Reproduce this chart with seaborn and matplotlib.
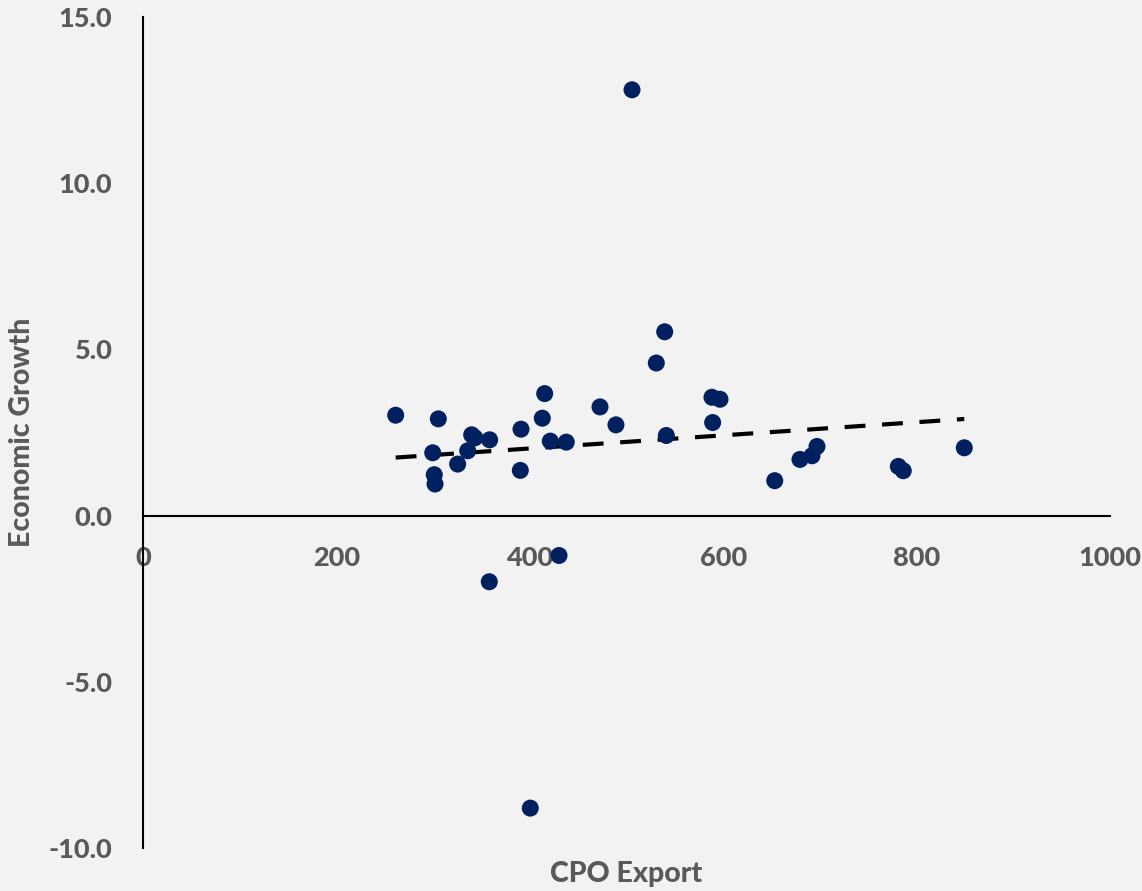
import matplotlib
matplotlib.use("Agg")
import matplotlib.pyplot as plt
import seaborn as sns
import pandas as pd

cpo_export = [261.3, 299.6, 301.2, 302.0, 305.4, 325.4, 335.8, 339.9, 343.3, 358.5,
              358.1, 390.9, 390.2, 400.5, 412.9, 415.4, 421.2, 430.2, 437.7, 472.6,
              489.1, 505.7, 530.8, 539.5, 541.2, 588.4, 596.7, 589.1, 653.3, 679.4,
              691.8, 697.0, 781.1, 786.2, 849.3]
economic_growth = [3.02, 1.89, 1.23, 0.95, 2.91, 1.55, 1.95, 2.43, 2.34, 2.28,
                   -1.99, 2.60, 1.36, -8.80, 2.93, 3.67, 2.24, -1.20, 2.21, 3.27,
                   2.73, 12.81, 4.59, 5.53, 2.41, 3.56, 3.50, 2.80, 1.05, 1.69,
                   1.80, 2.08, 1.48, 1.35, 2.04]
x_ticks = [0, 200, 400, 600, 800, 1000]
y_ticks = [-10.0, -5.0, 0.0, 5.0, 10.0, 15.0]

df = pd.DataFrame({"CPO Export": cpo_export, "Economic Growth": economic_growth})

sns.set_style("white")
plt.rcParams["font.family"] = ["Lato", "DejaVu Sans"]
BG = "#F2F2F2"
TXT = "#595959"
NAVY = "#002060"
W = "black"

fig = plt.figure(figsize=(11.42, 8.91), dpi=100, facecolor=BG)
ax = fig.add_axes([143/1142, 1 - 848/891, (1110 - 143)/1142, (848 - 17)/891])
ax.set_facecolor(BG)

sns.regplot(data=df, x="CPO Export", y="Economic Growth", ax=ax, ci=None,
            scatter_kws=dict(s=150, color=NAVY, edgecolor="none", alpha=1, zorder=3),
            line_kws=dict(color="black", lw=3, linestyle=(0, (5, 4)), zorder=2))

ax.set_xlim(0, 1000)
ax.set_ylim(-10, 15)
ax.set_xticks(x_ticks)
ax.set_yticks(y_ticks)
ax.set_xticklabels([f"{t:d}" for t in x_ticks])
ax.set_yticklabels([f"{t:.1f}" for t in y_ticks])

for s in ["top", "right"]:
    ax.spines[s].set_visible(False)
ax.spines["bottom"].set_position(("data", 0))
ax.spines["left"].set_position(("data", 0))
for s in ["bottom", "left"]:
    ax.spines[s].set_color("black")
    ax.spines[s].set_linewidth(1.5)

ax.tick_params(axis="both", length=0, labelsize=19.5, labelcolor=TXT)
ax.tick_params(axis="x", pad=22)
ax.tick_params(axis="y", pad=22)
for lab in ax.get_xticklabels() + ax.get_yticklabels():
    lab.set_fontweight(W)

ax.set_xlabel("CPO Export", fontsize=20.5, fontweight=W, color=TXT)
ax.set_ylabel("Economic Growth", fontsize=20.5, fontweight=W, color=TXT)
ax.xaxis.set_label_coords(0.5, -0.016)
ax.yaxis.set_label_coords(-0.112, 0.5)

fig.savefig("out.png", dpi=100, facecolor=BG)
